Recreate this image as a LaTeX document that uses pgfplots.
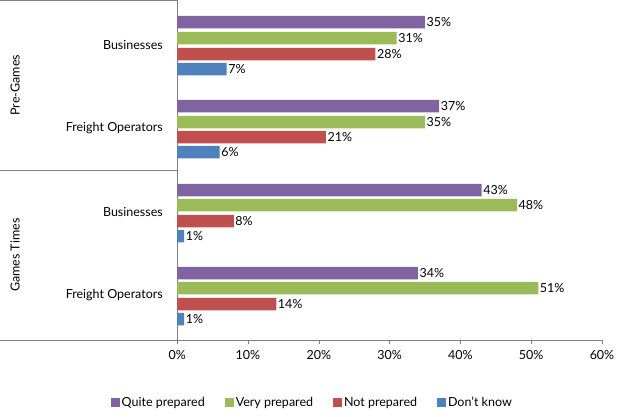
\documentclass[border=0pt]{standalone}
\usepackage{pgfplots}
\pgfplotsset{compat=1.18}
\usepackage{fontspec}
\setmainfont{Lato}
\definecolor{cq}{HTML}{8064A2}
\definecolor{cv}{HTML}{9BBB59}
\definecolor{cn}{HTML}{C0504D}
\definecolor{cd}{HTML}{4F81BD}
\begin{document}
\fontsize{12.5}{15}\selectfont
\begin{tikzpicture}
\path (-177pt,-76pt) rectangle (447pt,340pt);
\begin{axis}[
  at={(0,0)}, anchor=south west, scale only axis,
  width=425pt, height=340pt,
  xmin=0, xmax=60, ymin=0, ymax=340,
  xbar, bar width=12.5pt, bar shift=0pt,
  clip=false,
  axis x line*=bottom, axis y line*=left,
  y axis line style={draw=gray}, x axis line style={draw=gray},
  ytick=\empty,
  xtick={0,10,...,60}, xticklabel={\pgfmathprintnumber{\tick}\%},
  /pgf/number format/assume math mode=true,
  xtick style={draw=gray}, tick align=outside, major tick length=4pt,
  xticklabel style={font=\fontsize{12.5}{15}\selectfont, yshift=-2pt},
  nodes near coords={\pgfmathprintnumber{\pgfplotspointmeta}\%},
  nodes near coords style={font=\fontsize{12.5}{15}\selectfont, inner sep=1.5pt},
  legend style={at={(0.318,-0.185)}, anchor=center, draw=none, legend columns=4,
    font=\fontsize{12.5}{15}\selectfont, /tikz/every even column/.append style={column sep=18pt}},
  legend image code/.code={\fill[#1] (0pt,-4.5pt) rectangle (9pt,4.5pt);},
]
\addplot[fill=cq, draw=none] coordinates {(35,318) (37,234) (43,150) (34,67)};
\addplot[fill=cv, draw=none] coordinates {(31,302) (35,218) (48,135) (51,52)};
\addplot[fill=cn, draw=none] coordinates {(28,286) (21,203) (8,119) (14,36)};
\addplot[fill=cd, draw=none] coordinates {(7,271) (6,188) (1,104) (1,21)};
\legend{Quite prepared, Very prepared, Not prepared, Don't know}
\draw[gray] (axis cs:0,340) -- ++(-177pt,0);
\draw[gray] (axis cs:0,170) -- ++(-177pt,0);
\draw[gray] (axis cs:0,0) -- ++(-177pt,0);
\node[anchor=east] at ([xshift=-10pt]axis cs:0,295) {Businesses};
\node[anchor=east] at ([xshift=-10pt]axis cs:0,212) {Freight Operators};
\node[anchor=east] at ([xshift=-10pt]axis cs:0,128) {Businesses};
\node[anchor=east] at ([xshift=-10pt]axis cs:0,45) {Freight Operators};
\node[rotate=90] at ([xshift=-162pt]axis cs:0,255) {Pre-Games};
\node[rotate=90] at ([xshift=-162pt]axis cs:0,85) {Games Times};
\end{axis}
\end{tikzpicture}
\end{document}
